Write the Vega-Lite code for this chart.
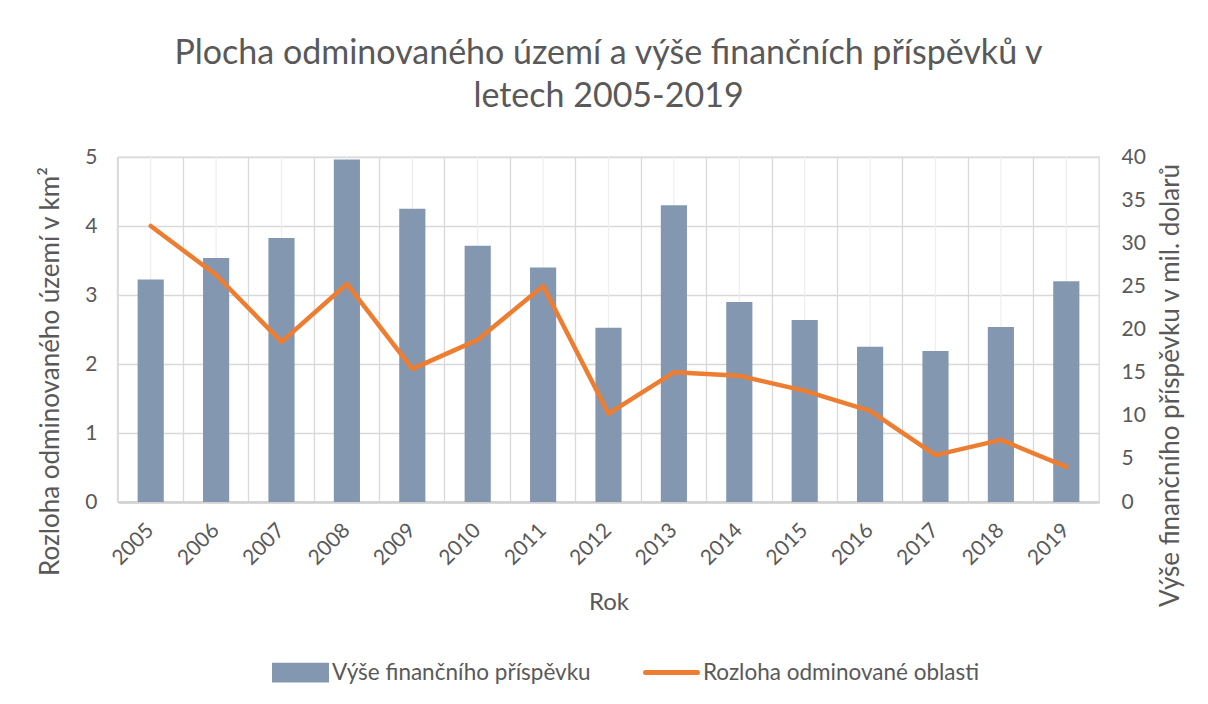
{
  "$schema": "https://vega.github.io/schema/vega-lite/v6.json",
  "autosize": "none",
  "width": 981,
  "height": 345,
  "padding": {"left": 118, "top": 157, "right": 109, "bottom": 202},
  "background": "white",
  "title": {
    "text": ["Plocha odminovaného území a výše finančních příspěvků v", "letech 2005-2019"],
    "font": "Lato",
    "fontSize": 34,
    "fontWeight": "normal",
    "color": "#595959",
    "lineHeight": 43,
    "anchor": "middle",
    "offset": 32
  },
  "data": {
    "values": [
      {"rok": "2005", "prispevek": 25.8, "rozloha": 4.0},
      {"rok": "2006", "prispevek": 28.3, "rozloha": 3.29},
      {"rok": "2007", "prispevek": 30.6, "rozloha": 2.32},
      {"rok": "2008", "prispevek": 39.7, "rozloha": 3.16},
      {"rok": "2009", "prispevek": 34.0, "rozloha": 1.93},
      {"rok": "2010", "prispevek": 29.7, "rozloha": 2.35},
      {"rok": "2011", "prispevek": 27.2, "rozloha": 3.13},
      {"rok": "2012", "prispevek": 20.2, "rozloha": 1.28},
      {"rok": "2013", "prispevek": 34.4, "rozloha": 1.88},
      {"rok": "2014", "prispevek": 23.2, "rozloha": 1.83},
      {"rok": "2015", "prispevek": 21.1, "rozloha": 1.61},
      {"rok": "2016", "prispevek": 18.0, "rozloha": 1.32},
      {"rok": "2017", "prispevek": 17.5, "rozloha": 0.68},
      {"rok": "2018", "prispevek": 20.3, "rozloha": 0.90},
      {"rok": "2019", "prispevek": 25.6, "rozloha": 0.51}
    ]
  },
  "encoding": {
    "x": {
      "field": "rok",
      "type": "nominal",
      "scale": {"paddingInner": 0, "paddingOuter": 0},
      "axis": {
        "title": "Rok",
        "titleFont": "Lato",
        "titleFontSize": 24,
        "titleFontWeight": "normal",
        "titleColor": "#595959",
        "titleBaseline": "alphabetic",
        "titleY": 107,
        "labelFont": "Lato",
        "labelFontSize": 21,
        "labelColor": "#595959",
        "labelAngle": -45,
        "labelAlign": "right",
        "labelBaseline": "middle",
        "labelPadding": 25,
        "ticks": false,
        "grid": true,
        "bandPosition": 0,
        "gridColor": "#d9d9d9",
        "gridWidth": 1.3,
        "domainColor": "#d0d0d0",
        "domainWidth": 2.5
      }
    }
  },
  "layer": [
    {
      "mark": {"type": "rule", "color": "#efefef", "strokeWidth": 1.3},
      "encoding": {}
    },
    {
      "mark": {"type": "bar", "width": {"band": 0.4}},
      "encoding": {
        "y": {
          "field": "prispevek",
          "type": "quantitative",
          "scale": {"domain": [0, 40], "nice": false},
          "axis": {
            "orient": "right",
            "values": [0, 5, 10, 15, 20, 25, 30, 35, 40],
            "grid": false,
            "domain": false,
            "ticks": false,
            "labelFont": "Lato",
            "labelFontSize": 21,
            "labelColor": "#595959",
            "labelAlign": "left",
            "labelPadding": 22,
            "title": "Výše finančního příspěvku v mil. dolarů",
            "titleFont": "Lato",
            "titleFontSize": 26,
            "titleFontWeight": "normal",
            "titleColor": "#595959",
            "titleAngle": 270,
            "titleBaseline": "alphabetic",
            "titleAlign": "center",
            "titleX": 79,
            "titleY": 228
          }
        },
        "color": {
          "datum": "Výše finančního příspěvku",
          "scale": {
            "domain": ["Výše finančního příspěvku", "Rozloha odminované oblasti"],
            "range": ["#8497B0", "#ED7D31"]
          },
          "legend": {
            "orient": "none",
            "direction": "horizontal",
            "legendX": 154,
            "legendY": 487,
            "title": null,
            "labelFont": "Lato",
            "labelFontSize": 22.5,
            "labelColor": "#595959",
            "labelOffset": 3,
            "symbolSize": 2700,
            "columnPadding": 44,
            "labelLimit": 400,
            "encode": {
              "symbols": {
                "update": {
                  "shape": {"signal": "datum.value == 'Rozloha odminované oblasti' ? 'M-1,-0.28M1,0.28M-1,0H1' : 'M-1,-0.28H1V0.28H-1Z'"},
                  "fill": {"signal": "datum.value == 'Rozloha odminované oblasti' ? 'transparent' : '#8497B0'"},
                  "stroke": {"signal": "datum.value == 'Rozloha odminované oblasti' ? '#ED7D31' : 'transparent'"},
                  "strokeWidth": {"value": 5},
                  "strokeCap": {"value": "round"},
                  "opacity": {"value": 1},
                  "fillOpacity": {"value": 1},
                  "strokeOpacity": {"value": 1}
                }
              }
            }
          }
        }
      }
    },
    {
      "mark": {"type": "line", "strokeWidth": 4.5, "strokeJoin": "round", "strokeCap": "round"},
      "encoding": {
        "y": {
          "field": "rozloha",
          "type": "quantitative",
          "scale": {"domain": [0, 5], "nice": false},
          "axis": {
            "orient": "left",
            "values": [0, 1, 2, 3, 4, 5],
            "grid": true,
            "gridColor": "#d9d9d9",
            "gridWidth": 1.3,
            "domain": false,
            "ticks": false,
            "labelFont": "Lato",
            "labelFontSize": 21,
            "labelColor": "#595959",
            "labelPadding": 21,
            "title": "Rozloha odminovaného území v km²",
            "titleFont": "Lato",
            "titleFontSize": 26,
            "titleFontWeight": "normal",
            "titleColor": "#595959",
            "titleAngle": 270,
            "titleBaseline": "alphabetic",
            "titleAlign": "center",
            "titleX": -60,
            "titleY": 214
          }
        },
        "color": {"datum": "Rozloha odminované oblasti"}
      }
    }
  ],
  "resolve": {"scale": {"y": "independent"}, "axis": {"y": "independent"}},
  "config": {
    "view": {"stroke": "#d9d9d9", "strokeWidth": 1.3},
    "axis": {"labelFont": "Lato", "titleFont": "Lato"}
  }
}
